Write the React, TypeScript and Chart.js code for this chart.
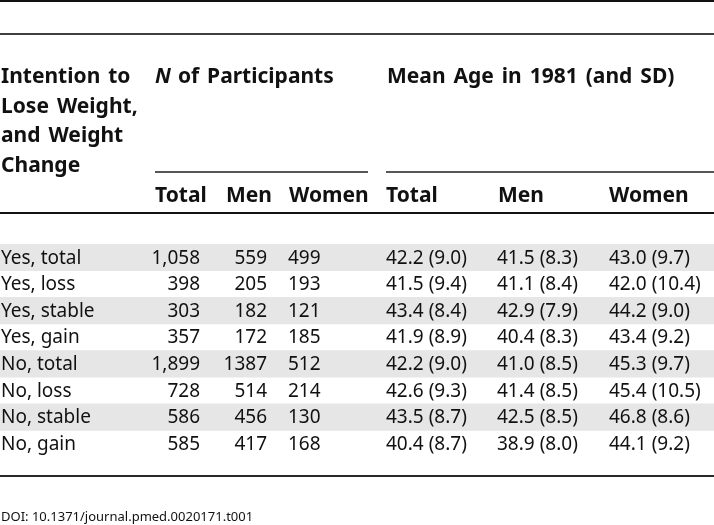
import React, { useEffect, useRef } from "react";
import { Chart, registerables } from "chart.js";

Chart.register(...registerables);

const rowLabels = [
  "Yes, total",
  "Yes, loss",
  "Yes, stable",
  "Yes, gain",
  "No, total",
  "No, loss",
  "No, stable",
  "No, gain",
];
const nTotal = [1058, 398, 303, 357, 1899, 728, 586, 585];
const nMen = [559, 205, 182, 172, 1387, 514, 456, 417];
const nWomen = [499, 193, 121, 185, 512, 214, 130, 168];
const meanTotal = [42.2, 41.5, 43.4, 41.9, 42.2, 42.6, 43.5, 40.4];
const sdTotal = [9.0, 9.4, 8.4, 8.9, 9.0, 9.3, 8.7, 8.7];
const meanMen = [41.5, 41.1, 42.9, 40.4, 41.0, 41.4, 42.5, 38.9];
const sdMen = [8.3, 8.4, 7.9, 8.3, 8.5, 8.5, 8.5, 8.0];
const meanWomen = [43.0, 42.0, 44.2, 43.4, 45.3, 45.4, 46.8, 44.1];
const sdWomen = [9.7, 10.4, 9.0, 9.2, 9.7, 10.5, 8.6, 9.2];

const stubHeader = ["Intention to", "Lose Weight,", "and Weight", "Change"];
const groupN = "of Participants";
const groupAge = "Mean Age in 1981 (and SD)";
const subHeaders = ["Total", "Men", "Women"];
const doiText = "DOI: 10.1371/journal.pmed.0020171.t001";

const FONT = '"Noto Sans", sans-serif';
const INK = "#111111";

const tablePlugin = {
  id: "tableText",
  afterDraw(chart: any) {
    const ctx = chart.ctx as any;
    const W = chart.width;
    const yScale = chart.scales.y;
    ctx.save();
    ctx.fillStyle = INK;

    const hline = (y: number, x1: number, x2: number, w: number) => {
      ctx.fillRect(x1, y - w / 2, x2 - x1, w);
    };
    hline(1, 0, W, 2);
    hline(34, 0, W, 1.6);
    hline(172, 155, 368, 1.4);
    hline(172, 386, W, 1.4);
    hline(213, 0, W, 2);
    hline(476, 0, W, 1.8);

    // header
    ctx.textBaseline = "alphabetic";
    ctx.textAlign = "left";
    ctx.wordSpacing = "2.5px";
    ctx.font = `bold 21px ${FONT}`;
    stubHeader.forEach((t, i) => ctx.fillText(t, 1, 83 + i * 29.7));
    ctx.font = `italic bold 21px ${FONT}`;
    ctx.fillText("N", 155, 83);
    const nw = ctx.measureText("N").width;
    ctx.font = `bold 21px ${FONT}`;
    const sp = ctx.measureText(" ").width;
    ctx.fillText(groupN, 155 + nw + sp - 1, 83);
    ctx.fillText(groupAge, 387, 83);

    // sub headers
    ctx.fillText(subHeaders[0], 155, 202);
    ctx.fillText(subHeaders[1], 226, 202);
    ctx.fillText(subHeaders[2], 289, 202);
    ctx.fillText(subHeaders[0], 386, 202);
    ctx.fillText(subHeaders[1], 498, 202);
    ctx.fillText(subHeaders[2], 609, 202);
    ctx.wordSpacing = "0px";

    // body
    ctx.font = `19px ${FONT}`;
    const fmt = (m: number, s: number) => `${m.toFixed(1)} (${s.toFixed(1)})`;
    rowLabels.forEach((label, i) => {
      const y = yScale.getPixelForValue(i) + 6.3;
      ctx.textAlign = "left";
      ctx.fillText(label, 1, y);
      ctx.textAlign = "right";
      ctx.fillText(nTotal[i].toLocaleString("en-US"), 200, y);
      ctx.fillText(String(nMen[i]), 267, y);
      ctx.textAlign = "left";
      ctx.fillText(String(nWomen[i]), 288, y);
      ctx.fillText(fmt(meanTotal[i], sdTotal[i]), 386, y);
      ctx.fillText(fmt(meanMen[i], sdMen[i]), 497, y);
      ctx.fillText(fmt(meanWomen[i], sdWomen[i]), 609, y);
    });

    ctx.font = `13px ${FONT}`;
    ctx.textAlign = "left";
    ctx.fillText(doiText, 1, 521);
    ctx.restore();
  },
};

export default function App() {
  const ref = useRef<HTMLCanvasElement | null>(null);
  useEffect(() => {
    if (!ref.current) return;
    const chart = new Chart(ref.current, {
      type: "bar",
      data: {
        labels: rowLabels,
        datasets: [
          {
            data: rowLabels.map((_, i) => (i % 2 === 0 ? [0, 1] : null)) as any,
            backgroundColor: "#e6e6e6",
            borderWidth: 0,
            barPercentage: 1,
            categoryPercentage: 1,
          },
        ],
      },
      options: {
        indexAxis: "y",
        responsive: false,
        animation: false,
        devicePixelRatio: 1,
        layout: { padding: { top: 244, bottom: 68, left: 0, right: 0 } },
        scales: {
          x: { type: "linear", min: 0, max: 1, display: false },
          y: { type: "category", display: false, offset: true },
        },
        plugins: { legend: { display: false }, tooltip: { enabled: false } },
      },
      plugins: [tablePlugin],
    });
    return () => chart.destroy();
  }, []);
  return (
    <div style={{ position: "absolute", left: 0, top: 0, width: 714, height: 525, background: "#fff" }}>
      <canvas ref={ref} width={714} height={525} />
    </div>
  );
}
